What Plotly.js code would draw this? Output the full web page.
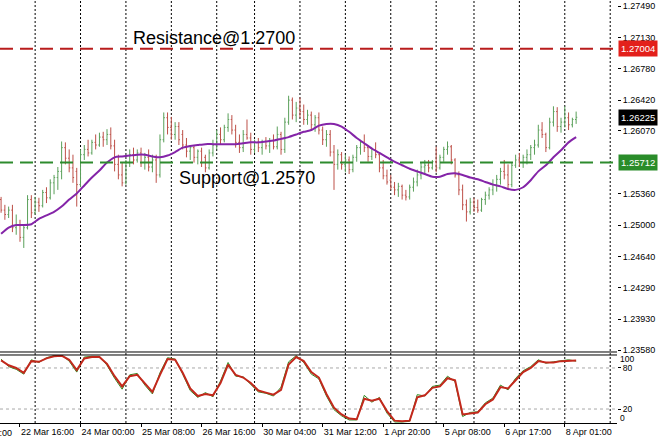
<!DOCTYPE html>
<html><head><meta charset="utf-8">
<script src="https://cdn.plot.ly/plotly-3.0.1.min.js"></script>
<style>html,body{margin:0;padding:0;background:#fff;}#chart{width:660px;height:441px;}</style>
</head><body><div id="chart"></div>
<script>
// ---- data: 2-hour OHLC bars (H1 timeline, bar k sits at hour 2k) ----
const barOpen = [
1.2529,1.2517,1.2512,1.2517,1.2497,1.2500,1.2486,1.2497,1.2529,1.2514,
1.2526,1.2522,1.2537,1.2531,1.2548,1.2554,1.2561,1.2588,1.2576,1.2565,
1.2561,1.2546,1.2580,1.2586,1.2582,1.2594,1.2591,1.2600,1.2597,1.2603,
1.2590,1.2569,1.2557,1.2548,1.2571,1.2580,1.2574,1.2582,1.2571,1.2577,
1.2566,1.2574,1.2557,1.2597,1.2622,1.2611,1.2603,1.2612,1.2603,1.2591,
1.2584,1.2588,1.2577,1.2584,1.2577,1.2565,1.2582,1.2591,1.2603,1.2597,
1.2611,1.2620,1.2608,1.2594,1.2588,1.2603,1.2599,1.2586,1.2594,1.2588,
1.2595,1.2590,1.2596,1.2589,1.2603,1.2586,1.2617,1.2642,1.2625,1.2633,
1.2629,1.2620,1.2625,1.2614,1.2622,1.2608,1.2597,1.2603,1.2583,1.2569,
1.2580,1.2569,1.2574,1.2563,1.2577,1.2588,1.2594,1.2588,1.2578,1.2586,
1.2580,1.2565,1.2556,1.2551,1.2543,1.2540,1.2544,1.2534,1.2532,1.2543,
1.2549,1.2557,1.2566,1.2568,1.2565,1.2572,1.2565,1.2577,1.2586,1.2589,
1.2574,1.2557,1.2540,1.2523,1.2515,1.2526,1.2520,1.2517,1.2529,1.2534,
1.2540,1.2546,1.2552,1.2561,1.2557,1.2546,1.2568,1.2574,1.2571,1.2577,
1.2580,1.2588,1.2591,1.2608,1.2603,1.2588,1.2617,1.2629,1.2612,1.2617,
1.2622,1.2614,1.2620];
const barHigh = [
1.2532,1.2523,1.2521,1.2523,1.2512,1.2506,1.2500,1.2534,1.2534,1.2532,
1.2531,1.2540,1.2543,1.2552,1.2557,1.2566,1.2595,1.2594,1.2586,1.2580,
1.2565,1.2586,1.2591,1.2597,1.2597,1.2603,1.2605,1.2606,1.2609,1.2611,
1.2597,1.2580,1.2571,1.2574,1.2586,1.2588,1.2586,1.2588,1.2582,1.2586,
1.2580,1.2580,1.2603,1.2628,1.2628,1.2623,1.2617,1.2617,1.2608,1.2599,
1.2591,1.2591,1.2586,1.2588,1.2580,1.2586,1.2597,1.2608,1.2611,1.2614,
1.2627,1.2625,1.2614,1.2603,1.2608,1.2620,1.2605,1.2597,1.2599,1.2597,
1.2600,1.2599,1.2603,1.2612,1.2606,1.2622,1.2647,1.2645,1.2640,1.2645,
1.2637,1.2631,1.2629,1.2625,1.2628,1.2612,1.2608,1.2608,1.2591,1.2586,
1.2583,1.2580,1.2578,1.2580,1.2591,1.2597,1.2603,1.2591,1.2588,1.2594,
1.2583,1.2574,1.2563,1.2557,1.2549,1.2548,1.2546,1.2540,1.2546,1.2554,
1.2563,1.2571,1.2574,1.2574,1.2574,1.2589,1.2580,1.2589,1.2595,1.2591,
1.2576,1.2561,1.2546,1.2529,1.2531,1.2531,1.2529,1.2531,1.2538,1.2543,
1.2552,1.2557,1.2565,1.2574,1.2569,1.2571,1.2580,1.2582,1.2580,1.2586,
1.2591,1.2597,1.2614,1.2617,1.2605,1.2622,1.2635,1.2634,1.2622,1.2635,
1.2628,1.2622,1.2629];
const barLow = [
1.2514,1.2506,1.2508,1.2492,1.2489,1.2481,1.2474,1.2495,1.2508,1.2512,
1.2515,1.2520,1.2525,1.2529,1.2535,1.2540,1.2552,1.2569,1.2560,1.2548,
1.2521,1.2543,1.2574,1.2578,1.2580,1.2586,1.2589,1.2589,1.2591,1.2586,
1.2561,1.2552,1.2544,1.2546,1.2566,1.2569,1.2571,1.2566,1.2563,1.2561,
1.2560,1.2548,1.2554,1.2594,1.2603,1.2597,1.2597,1.2591,1.2586,1.2577,
1.2574,1.2571,1.2569,1.2566,1.2560,1.2563,1.2578,1.2586,1.2591,1.2594,
1.2606,1.2603,1.2588,1.2582,1.2583,1.2597,1.2580,1.2582,1.2583,1.2580,
1.2586,1.2582,1.2586,1.2586,1.2580,1.2582,1.2614,1.2620,1.2617,1.2622,
1.2614,1.2614,1.2608,1.2606,1.2603,1.2591,1.2589,1.2578,1.2540,1.2563,
1.2563,1.2560,1.2558,1.2560,1.2572,1.2580,1.2583,1.2572,1.2574,1.2576,
1.2560,1.2552,1.2546,1.2540,1.2534,1.2532,1.2529,1.2528,1.2529,1.2538,
1.2544,1.2552,1.2557,1.2560,1.2563,1.2560,1.2563,1.2572,1.2580,1.2569,
1.2554,1.2534,1.2517,1.2504,1.2512,1.2515,1.2514,1.2515,1.2523,1.2529,
1.2534,1.2538,1.2546,1.2552,1.2540,1.2543,1.2565,1.2566,1.2565,1.2569,
1.2574,1.2580,1.2588,1.2599,1.2583,1.2586,1.2612,1.2606,1.2605,1.2611,
1.2608,1.2611,1.2615];
const barClose = [
1.2517,1.2512,1.2517,1.2497,1.2500,1.2486,1.2497,1.2529,1.2514,1.2526,
1.2522,1.2537,1.2531,1.2548,1.2554,1.2561,1.2588,1.2576,1.2565,1.2554,
1.2546,1.2580,1.2586,1.2582,1.2594,1.2591,1.2600,1.2597,1.2603,1.2590,
1.2569,1.2557,1.2548,1.2571,1.2580,1.2574,1.2582,1.2571,1.2577,1.2566,
1.2574,1.2557,1.2597,1.2622,1.2611,1.2603,1.2612,1.2597,1.2591,1.2584,
1.2588,1.2577,1.2584,1.2571,1.2565,1.2582,1.2591,1.2603,1.2597,1.2611,
1.2620,1.2608,1.2594,1.2588,1.2603,1.2599,1.2586,1.2594,1.2588,1.2595,
1.2590,1.2596,1.2589,1.2603,1.2586,1.2617,1.2642,1.2625,1.2633,1.2629,
1.2620,1.2625,1.2614,1.2622,1.2608,1.2597,1.2603,1.2583,1.2569,1.2580,
1.2569,1.2574,1.2563,1.2577,1.2588,1.2594,1.2588,1.2578,1.2586,1.2580,
1.2565,1.2556,1.2549,1.2543,1.2540,1.2544,1.2534,1.2532,1.2543,1.2549,
1.2557,1.2566,1.2568,1.2565,1.2572,1.2565,1.2577,1.2586,1.2589,1.2574,
1.2557,1.2540,1.2523,1.2515,1.2526,1.2520,1.2517,1.2529,1.2534,1.2540,
1.2546,1.2552,1.2561,1.2557,1.2546,1.2568,1.2574,1.2571,1.2577,1.2580,
1.2588,1.2591,1.2608,1.2603,1.2588,1.2617,1.2629,1.2612,1.2617,1.2622,
1.2614,1.2620,1.26225];

// moving average, sampled every 4 hours
const maValues = [
1.2490,1.2497,1.2500,1.2500,1.2501,1.2507,1.2511,1.2515,1.2521,1.2529,
1.2536,1.2545,1.2554,1.2562,1.2571,1.2577,1.2578,1.2579,1.2580,1.2580,
1.2578,1.2577,1.2579,1.2583,1.2588,1.2590,1.2591,1.2592,1.2592,1.2592,
1.2592,1.2592,1.2593,1.2594,1.2594,1.2595,1.2596,1.2598,1.2600,1.2603,
1.2606,1.2608,1.2613,1.2615,1.2615,1.2612,1.2606,1.2599,1.2593,1.2587,
1.2582,1.2577,1.2572,1.2568,1.2564,1.2561,1.2558,1.2555,1.2555,1.2558,
1.2559,1.2557,1.2554,1.2552,1.2549,1.2546,1.2544,1.2541,1.2540,1.2543,
1.2551,1.2561,1.2568,1.2577,1.2585,1.2594,1.2600];

// stochastic oscillator, sampled every 4 hours
const stochSignal = [
91,84,80,73,90,89,94,97,98,92,
77,94,96,96,86,68,53,68,70,57,
45,70,93,92,73,50,39,42,40,58,
85,70,66,58,47,44,41,48,85,96,
90,74,66,42,22,12,6,5,35,32,
35,17,3,2,3,37,40,51,53,65,
62,12,14,15,27,34,52,50,62,74,
80,90,88,88,90,91,91];
const stochMain = [
93,82,78,71,92,88,95,98,99,90,
74,96,97,97,84,65,49,70,72,55,
42,73,95,93,71,47,37,44,38,61,
88,68,67,56,45,43,39,52,89,98,
88,71,64,39,19,10,4,4,40,30,
37,14,1,1,2,41,39,53,55,68,
60,9,15,16,29,36,55,48,65,76,
82,92,87,89,90,92,90];

const resistanceLevel = 1.27004;
const supportLevel = 1.25712;
const lastPrice = 1.26225;
const priceTicks = [1.27490,1.27130,1.26780,1.26420,1.26070,1.25360,1.25000,1.24640,1.24290,1.23930,1.23580];
const stochLevels = [80,20];
const timeLabelHours = [10,42,74,106,138,170,202,234,266,298];
const timeLabels = ["22 Mar 16:00","24 Mar 00:00","25 Mar 08:00","26 Mar 16:00","30 Mar 04:00","31 Mar 12:00","1 Apr 20:00","5 Apr 08:00","6 Apr 17:00","8 Apr 01:00"];
const cutLabelHour = -22, cutLabel = "21 Mar 08:00";
const daySeparatorHours = [18,42,66,90,114,134,158,182,206,230,250,274,298,322];

// ---- build ----
const barHours = barOpen.map((_, i) => i * 2);
const sampleHours = maValues.map((_, i) => i * 4);
const xRange = [-0.57, 325.6];
const FONT = "Liberation Sans, Arial, sans-serif";

const traces = [
  {type:'ohlc', x:barHours, open:barOpen, high:barHigh, low:barLow, close:barClose,
   xaxis:'x', yaxis:'y', tickwidth:0.3,
   increasing:{line:{color:'#5aa05a', width:1}},
   decreasing:{line:{color:'#bd5048', width:1}}, hoverinfo:'skip'},
  {type:'scatter', mode:'lines', x:sampleHours, y:maValues, xaxis:'x', yaxis:'y',
   line:{color:'#8424a8', width:2, shape:'spline', smoothing:0.6}, hoverinfo:'skip'},
  {type:'scatter', mode:'lines', x:sampleHours, y:stochMain, xaxis:'x', yaxis:'y2',
   line:{color:'#2e8b22', width:1}, hoverinfo:'skip'},
  {type:'scatter', mode:'lines', x:sampleHours, y:stochSignal, xaxis:'x', yaxis:'y2',
   line:{color:'#c3281c', width:2}, hoverinfo:'skip'}
];

const shapes = [];
daySeparatorHours.forEach(h => shapes.push({type:'line', xref:'x', yref:'paper', x0:h, x1:h, y0:0, y1:1,
  line:{color:'#000', width:1, dash:'2px,2px'}, layer:'below'}));
shapes.push({type:'line', xref:'paper', yref:'y', x0:0, x1:1, y0:resistanceLevel, y1:resistanceLevel,
  line:{color:'#b91c1c', width:2, dash:'13px,7px'}});
shapes.push({type:'line', xref:'paper', yref:'y', x0:0, x1:1, y0:supportLevel, y1:supportLevel,
  line:{color:'#2e8b2e', width:2, dash:'13px,7px'}});
stochLevels.forEach(v => shapes.push({type:'line', xref:'paper', yref:'y2', x0:0, x1:1, y0:v, y1:v,
  line:{color:'#a8a8a8', width:1, dash:'3px,3px'}, layer:'below'}));
shapes.push({type:'line', xref:'paper', yref:'y domain', x0:0, x1:1, y0:0, y1:0, line:{color:'#000', width:1}});
shapes.push({type:'line', xref:'paper', yref:'y2 domain', x0:0, x1:1, y0:1, y1:1, line:{color:'#000', width:1}});

function boxLabel(v, bg) {
  return {xref:'paper', x:1, xanchor:'left', xshift:1, yref:'y', y:v, yanchor:'middle',
    text:v.toFixed(5), showarrow:false, bgcolor:bg, borderpad:2,
    font:{family:FONT, size:9.5, color:'#fff'}};
}
const annotations = [
  {xref:'x', x:68.7, xanchor:'left', yref:'y', y:1.27126, yanchor:'middle', text:'Resistance@1.2700',
   showarrow:false, font:{family:FONT, size:18, color:'#000'}},
  {xref:'x', x:93, xanchor:'left', yref:'y', y:1.25535, yanchor:'middle', text:'Support@1.2570',
   showarrow:false, font:{family:FONT, size:18, color:'#000'}},
  boxLabel(resistanceLevel, '#e3201b'),
  boxLabel(supportLevel, '#2a8c2a'),
  boxLabel(lastPrice, '#000000'),
  {xref:'paper', x:1, xanchor:'left', xshift:2, yref:'y2 domain', y:1, yanchor:'top', yshift:2, text:'100',
   showarrow:false, borderpad:0, font:{family:FONT, size:8.5, color:'#000'}},
  {xref:'paper', x:1, xanchor:'left', xshift:2, yref:'y2 domain', y:0, yanchor:'bottom', yshift:-1, text:'0',
   showarrow:false, borderpad:0, font:{family:FONT, size:8.5, color:'#000'}},
  {xref:'paper', x:(cutLabelHour - xRange[0]) / (xRange[1] - xRange[0]), xanchor:'left', xshift:-2, yref:'paper', y:0,
   yanchor:'top', yshift:-3, text:cutLabel, showarrow:false, font:{family:FONT, size:9, color:'#000'}}
];

const layout = {
  width:660, height:441,
  margin:{l:0, r:43, t:0, b:18, pad:0},
  paper_bgcolor:'#fff', plot_bgcolor:'#fff',
  showlegend:false,
  font:{family:FONT, size:9, color:'#000'},
  xaxis:{range:xRange, anchor:'y2', showgrid:false, zeroline:false, showline:true, linecolor:'#000', linewidth:1,
    ticks:'outside', ticklen:3, tickcolor:'#000', tickvals:timeLabelHours, ticktext:timeLabels, tickangle:0,
    ticklabelposition:'outside right', rangeslider:{visible:false}, fixedrange:true},
  yaxis:{domain:[0.16785,1], range:[1.235573,1.275582], side:'right', anchor:'x', showgrid:false, zeroline:false,
    showline:false, ticks:'outside', ticklen:3, tickcolor:'#000', tickvals:priceTicks,
    ticktext:priceTicks.map(v => v.toFixed(5)), fixedrange:true},
  yaxis2:{domain:[0,0.16076], range:[-0.44,98.97], side:'right', anchor:'x', showgrid:false, zeroline:false,
    showline:false, ticks:'outside', ticklen:3, tickcolor:'#000', tickvals:stochLevels,
    ticktext:stochLevels.map(String), tickfont:{size:8.5}, fixedrange:true},
  shapes:shapes, annotations:annotations
};

Plotly.newPlot('chart', traces, layout, {staticPlot:true, displayModeBar:false});
</script>
</body></html>
